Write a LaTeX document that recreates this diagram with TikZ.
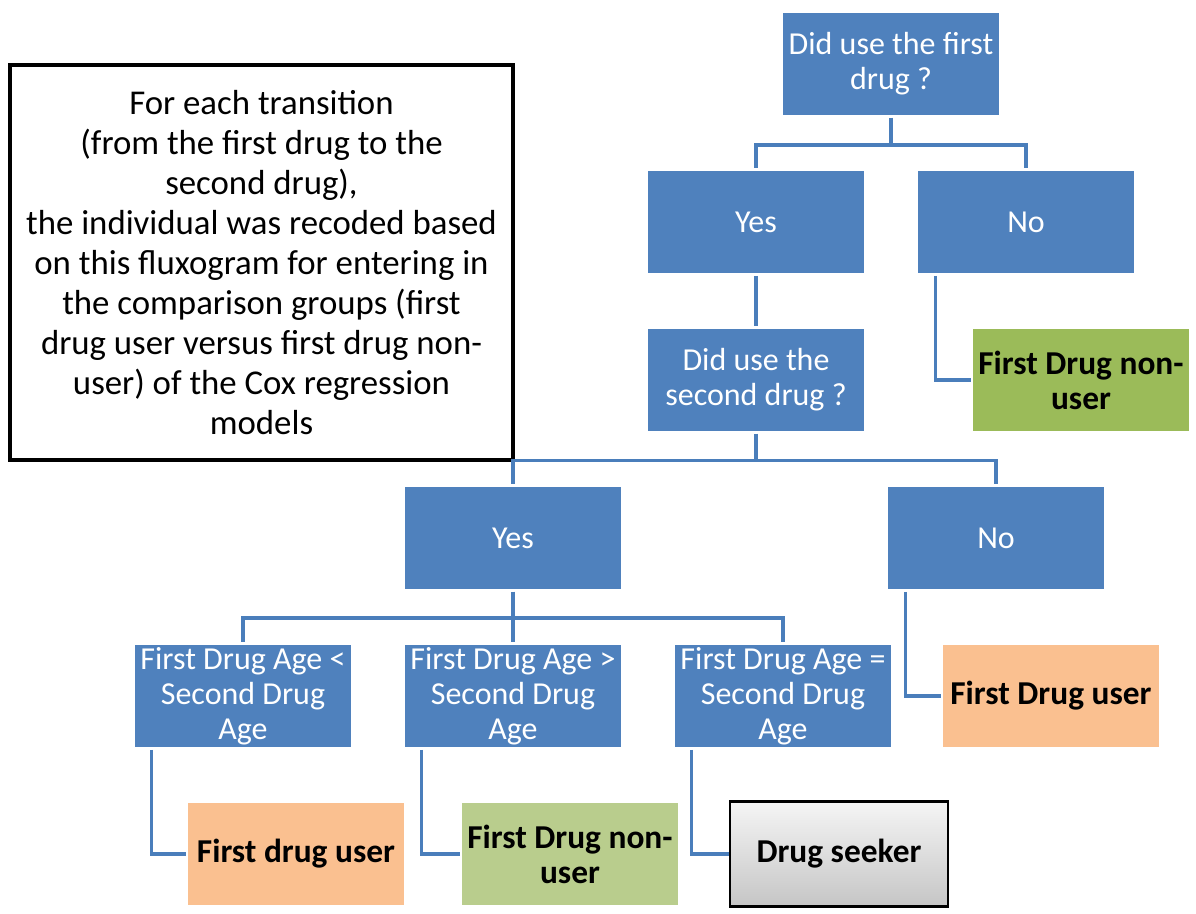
\documentclass[tikz,border=0pt]{standalone}
\usepackage{fontspec}
\setmainfont{Carlito}
\usepackage{tikz}
\usetikzlibrary{positioning, shadows}

\definecolor{boxblue}{RGB}{79,129,189}
\definecolor{lineblue}{RGB}{74,126,187}
\definecolor{useorange}{RGB}{250,192,144}
\definecolor{nongreen}{RGB}{155,187,89}
\definecolor{palegreen}{RGB}{185,205,141}

\begin{document}
\begin{tikzpicture}[
  node distance=3.16cm,
  every node/.style={rectangle, align=center, minimum width=4.36cm, minimum height=2.1cm, inner sep=2pt},
  boxed/.style={draw=white, line width=1.5pt, drop shadow={shadow xshift=0.6pt, shadow yshift=-1pt, opacity=0.25}},
  query/.style={boxed, fill=boxblue, text=white, font=\fontsize{18.2}{20}\selectfont},
  outcome/.style={boxed, text=black, font=\bfseries\fontsize{19}{20}\selectfont},
  link/.style={draw=lineblue, line width=2pt}
]
\useasboundingbox (0,0) rectangle (23.92,-18.28);

\node (q1) [query] at (17.82,-1.28) {Did use the first\\drug ?};
\node (yes1) [query, below of=q1, xshift=-2.7cm] {Yes};
\node (no1) [query, below of=q1, xshift=2.7cm] {No};
\node (q2) [query, below of=yes1] {Did use the\\second drug ?};
\node (nonuser1) [outcome, fill=nongreen, below of=no1, xshift=1.1cm] {First Drug non-\\user};

\node (note) [draw=black, line width=2pt, minimum width=10.06cm, minimum height=7.9cm,
  font=\fontsize{19.8}{22.7}\selectfont] at (5.23,-5.25)
  {For each transition\\(from the first drug to the\\second drug),\\the individual was recoded based\\on this fluxogram for entering in\\the comparison groups (first\\drug user versus first drug non-\\user) of the Cox regression\\models};

\node (yes2) [query, below of=q2, xshift=-4.86cm] {Yes};
\node (no2) [query, below of=q2, xshift=4.8cm] {No};
\node (lt) [query, below of=yes2, xshift=-5.4cm] {First Drug Age <\\Second Drug\\Age};
\node (gt) [query, below of=yes2] {First Drug Age >\\Second Drug\\Age};
\node (eq) [query, below of=yes2, xshift=5.4cm] {First Drug Age =\\Second Drug\\Age};
\node (user1) [outcome, fill=useorange, below of=no2, xshift=1.1cm] {First Drug user};

\node (user2) [outcome, fill=useorange, below of=lt, xshift=1.06cm] {First drug user};
\node (nonuser2) [outcome, fill=palegreen, below of=gt, xshift=1.14cm] {First Drug non-\\user};
\node (seeker) [outcome, draw=black, line width=1.2pt, top color=gray!8, bottom color=gray!45,
  below of=eq, xshift=1.12cm] {Drug seeker};

% tree links
\draw[link] (q1.south) -- ++(0,-0.54) -| (yes1.north);
\draw[link] (q1.south) -- ++(0,-0.54) -| (no1.north);
\draw[link] (yes1.south) -- (q2.north);
\draw[link] ([xshift=0.4cm]no1.south west) |- (nonuser1.west);

\draw[link] (q2.south) -- ++(0,-0.53) -| (yes2.north);
\draw[link] (q2.south) -- ++(0,-0.53) -| (no2.north);
\draw[link] ([xshift=0.4cm]no2.south west) |- (user1.west);

\draw[link] (yes2.south) -- ++(0,-0.52) -| (lt.north);
\draw[link] (yes2.south) -- (gt.north);
\draw[link] (yes2.south) -- ++(0,-0.52) -| (eq.north);

\draw[link] ([xshift=0.38cm]lt.south west) |- (user2.west);
\draw[link] ([xshift=0.38cm]gt.south west) |- (nonuser2.west);
\draw[link] ([xshift=0.38cm]eq.south west) |- (seeker.west);

\end{tikzpicture}
\end{document}
